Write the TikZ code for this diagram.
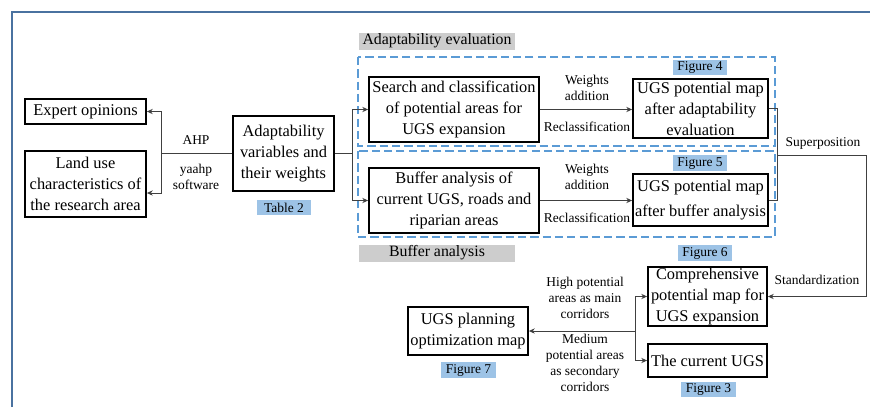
\documentclass[tikz,border=0pt]{standalone}
\usepackage{fontspec}
\setmainfont{Liberation Serif}
\usetikzlibrary{positioning,arrows.meta,calc}
\definecolor{dashblue}{HTML}{5B9BD5}
\definecolor{figblue}{HTML}{9DC3E6}
\definecolor{lblgray}{HTML}{CDCDCD}
\definecolor{framec}{HTML}{4A72A0}

\begin{document}
\begin{tikzpicture}[
  x=0.03cm, y=-0.03cm,
  >={Stealth[length=5pt,width=4.5pt]},
  bx/.style={draw, line width=1.5pt, align=center, inner sep=1pt, font=\fontsize{14}{18}\selectfont, minimum width=#1},
  bx/.default=36mm,
  tag/.style={fill=figblue, inner sep=0pt, minimum width=16.4mm, minimum height=4.6mm, font=\fontsize{11.5}{13}\selectfont},
  sec/.style={fill=lblgray, inner sep=0pt, minimum width=46.8mm, minimum height=5.1mm, font=\fontsize{13.5}{15}\selectfont},
  grp/.style={draw=dashblue, line width=1.7pt, dash pattern=on 7pt off 3.5pt},
  lab/.style={font=\fontsize{11.5}{13.7}\selectfont, align=center, inner sep=1pt},
  arr/.style={->, line width=0.8pt, black!75},
  ln/.style={line width=0.8pt, black!75}
]
\useasboundingbox (0,0) rectangle (870,407);
% ---------------- frame
\draw[framec, line width=1.8pt] (12,407) -- (12,12) -- (870,12);
% ---------------- left column
\node[bx=36.3mm, minimum height=7.5mm] (expert) at (85.5,111.5) {Expert opinions};
\node[bx=36.3mm, minimum height=19.8mm] (landuse) at (85.5,184) {Land use\\characteristics of\\the research area};
\node[bx=30.3mm, minimum height=22.5mm] (adapt) at (283.5,153.5) {Adaptability\\variables and\\their weights};
\node[tag] (tab2) at (284,207.5) {Table 2};
% ---------------- group frames
\draw[grp] (358,57) rectangle (775,146);
\draw[grp] (358,151) rectangle (775,237);
\node[sec] (secA) at (437,41) {Adaptability evaluation};
\node[sec] (secB) at (437,253) {Buffer analysis};
% ---------------- middle column
\node[bx=51mm, minimum height=19.5mm] (search) at (454,109.5) {Search and classification\\of potential areas for\\UGS expansion};
\node[bx=51mm, minimum height=19.5mm] (buffer) at (454,200.5) {Buffer analysis of\\current UGS, roads and\\riparian areas};
\node[bx=40.5mm, minimum height=17.7mm] (map1) at (700.5,108.5) {UGS potential map\\after adaptability\\evaluation};
\node[bx=40.5mm, minimum height=15.6mm] (map2) at (700.5,200) {UGS potential map\\[4pt]after buffer analysis};
\node[tag] (fig4) at (700,67.5) {Figure 4};
\node[tag] (fig5) at (700,163) {Figure 5};
\node[tag] (fig6) at (705,253) {Figure 6};
% ---------------- bottom row
\node[bx=35.7mm, minimum height=17.7mm] (comp) at (707.5,296.5) {Comprehensive\\potential map for\\UGS expansion};
\node[bx=35.7mm, minimum height=9.9mm] (current) at (707.5,360.5) {The current UGS};
\node[tag] (fig3) at (708.5,389.5) {Figure 3};
\node[bx=36mm, minimum height=14.4mm] (plan) at (468,331) {UGS planning\\optimization map};
\node[tag] (fig7) at (468.5,370) {Figure 7};
% ---------------- edge labels
\node[lab] (ahp) at (196,140) {AHP};
\node[lab] (yaahp) at (196,177) {yaahp\\software};
\node[lab] (wa1) at (587,88) {Weights\\addition};
\node[lab] (rc1) at (587,127) {Reclassification};
\node[lab] (wa2) at (587,177) {Weights\\addition};
\node[lab] (rc2) at (587,218) {Reclassification};
\node[lab] (supl) at (823,143) {Superposition};
\node[lab] (stdl) at (817,280) {Standardization};
\node[lab] (highl) at (585,298) {High potential\\areas as main\\corridors};
\node[lab] (medl) at (585,363) {Medium\\potential areas\\as secondary\\corridors};
% ---------------- edges
\coordinate (ahpj) at (161,154);
\draw[ln] (adapt.west) -- (adapt.west -| ahpj);
\draw[arr] (ahpj) |- (expert.east);
\draw[arr] (ahpj) |- ([yshift=-0.27cm]landuse.east);
\coordinate (adj) at (352,154);
\draw[ln] (adapt.east) -- (adapt.east -| adj);
\draw[arr] (adj) |- (search.west);
\draw[arr] (adj) |- (buffer.west);
\draw[arr] (search.east) -- (search.east -| map1.west);
\draw[arr] (buffer.east) -- (buffer.east -| map2.west);
\coordinate (sup) at (777,155);
\coordinate (supc) at (866,155);
\draw[ln] (map1.east) -- (map1.east -| sup) -- (map2.east -| sup) -- (map2.east);
\draw[arr] (sup) -- (supc) |- (comp.east);
\coordinate (brj) at (635,331);
\draw[arr] (brj) |- (comp.west);
\draw[arr] (brj) |- (current.west);
\draw[arr] (brj) -- (plan.east);
\end{tikzpicture}
\end{document}
